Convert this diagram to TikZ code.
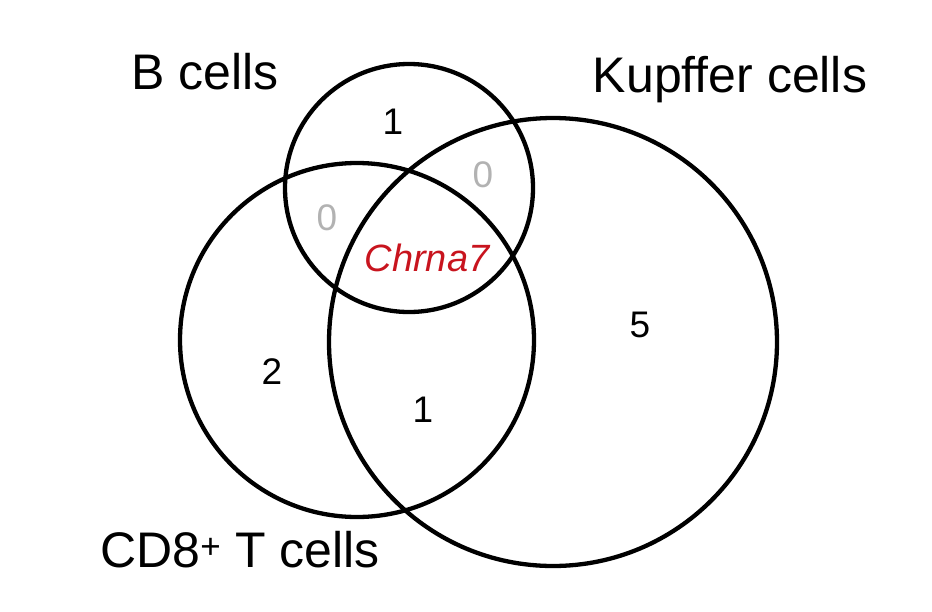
\documentclass[tikz,border=0pt]{standalone}
\usepackage{fontspec}
\setmainfont{Liberation Sans}
\begin{document}
\begin{tikzpicture}[x=1pt,y=-1pt,
  circ/.style={draw=black,line width=4.3pt,circle,inner sep=0pt},
  lab/.style={font=\fontsize{50}{56}\selectfont},
  num/.style={font=\fontsize{37}{42}\selectfont},
  zero/.style={num,text=black!30}]
\useasboundingbox (0,0) rectangle (932,611);
\node[circ,minimum size=248pt] (b) at (409,188) {};
\node[circ,minimum size=354pt] (t) at (357,340) {};
\node[circ,minimum size=448pt] (k) at (553,342) {};
\node[lab] (lb) at (205,72) {B cells};
\node[lab] (lk) at (730,80) {Kupffer cells};
\node[lab] (lt) at (240,550) {CD8\textsuperscript{+} T cells};
\node[num] (n1) at (393,122) {1};
\node[zero] (z1) at (483,175) {0};
\node[zero] (z2) at (327,218) {0};
\node[num,text={rgb,255:red,200;green,20;blue,30},font=\fontsize{38}{44}\selectfont\itshape] (c) at (427,258) {Chrna7};
\node[num] (n5) at (640,325) {5};
\node[num] (n2) at (272,372) {2};
\node[num] (n3) at (423,410) {1};
\end{tikzpicture}
\end{document}
